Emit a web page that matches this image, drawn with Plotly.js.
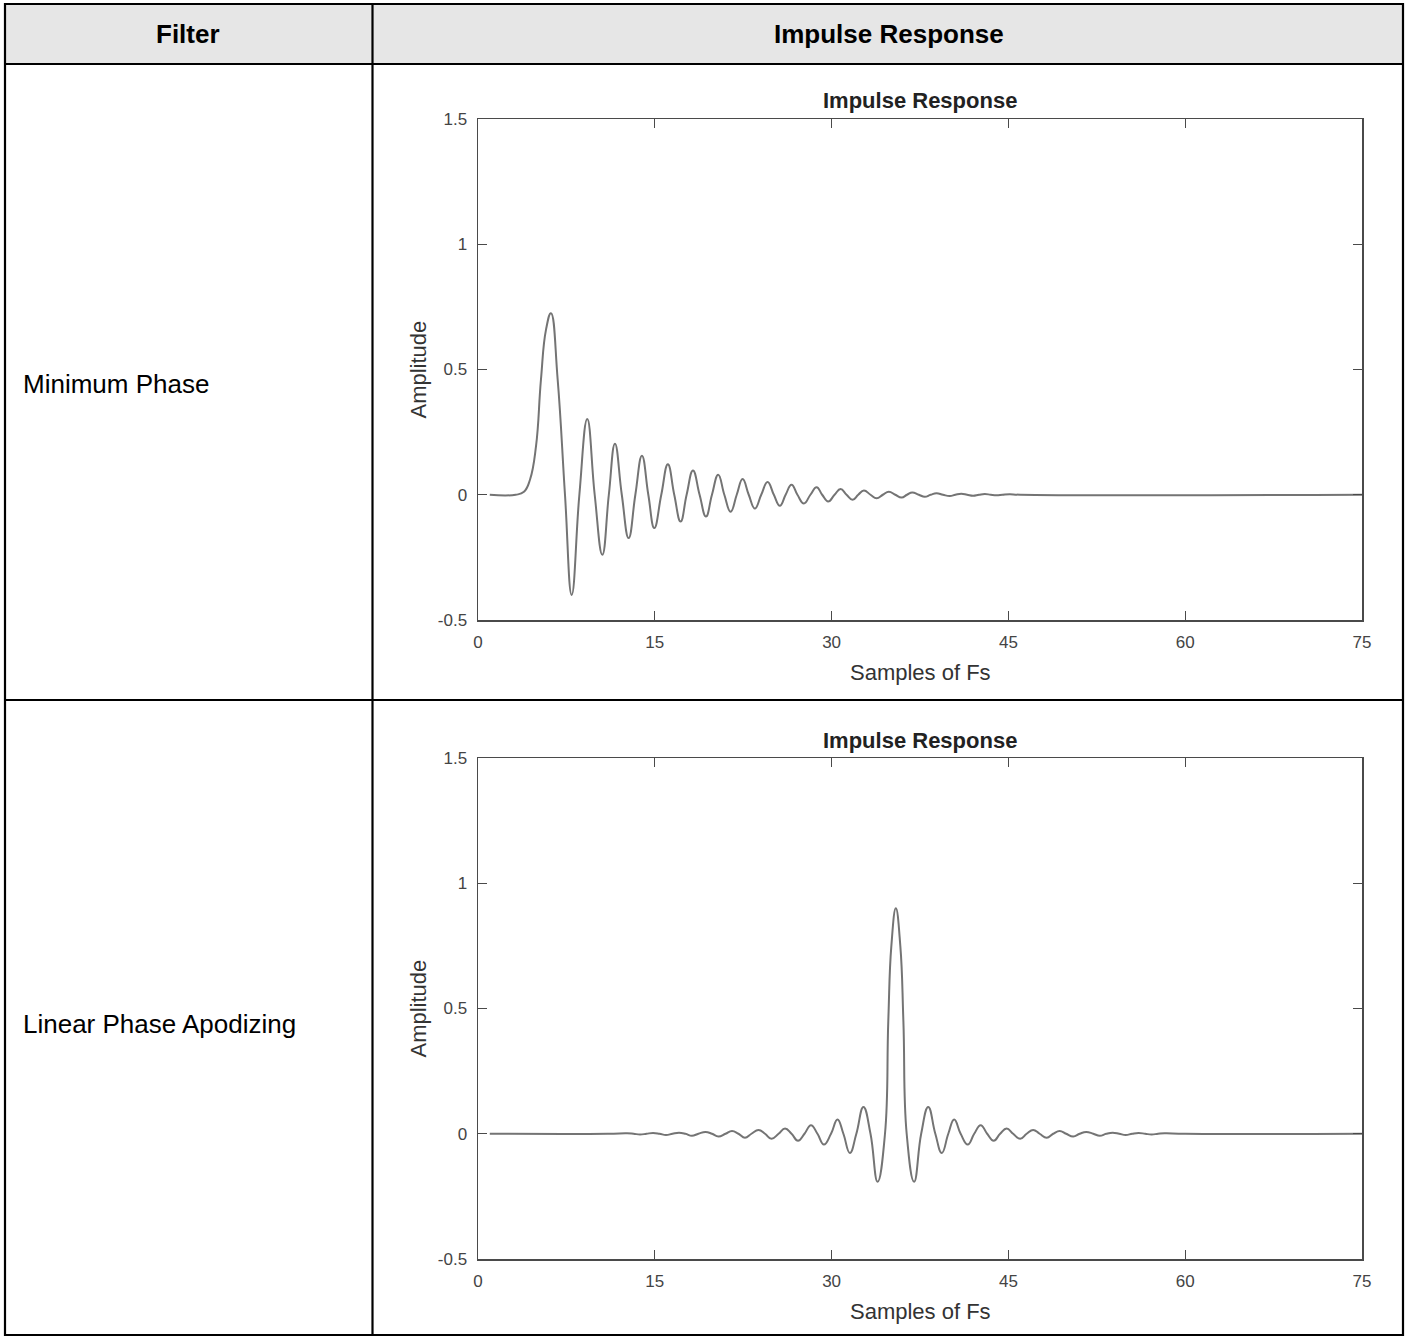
<!DOCTYPE html>
<html><head><meta charset="utf-8">
<script src="https://cdn.plot.ly/plotly-3.0.1.min.js"></script>
<style>html,body{margin:0;padding:0;background:#fff;}#chart{width:1405px;height:1338px;}</style>
</head><body><div id="chart"></div>
<script>
// ---- data ----
const headerLabels = ["Filter", "Impulse Response"];
const rowLabels = ["Minimum Phase", "Linear Phase Apodizing"];
const plotTitle = "Impulse Response";
const xAxisLabel = "Samples of Fs";
const yAxisLabel = "Amplitude";
const xTicks = [0, 15, 30, 45, 60, 75];
const yTicks = [-0.5, 0, 0.5, 1, 1.5];
const yTickText = ["-0.5", "0", "0.5", "1", "1.5"];

const minPhaseX = [1, 3.2, 3.9, 4.41, 4.92, 5.34, 5.77, 6.19, 6.76, 7.38, 7.95, 8.6, 9.27, 9.9, 10.55, 11.1, 11.62, 12.2, 12.78, 13.35, 13.91, 14.45, 14.96, 15.55, 16.11, 16.65, 17.19, 17.7, 18.24, 18.8, 19.34, 19.85, 20.38, 20.9, 21.43, 21.95, 22.45, 22.97, 23.49, 24.03, 24.57, 25.1, 25.61, 26.1, 26.6, 27.1, 27.65, 28.2, 28.73, 29.2, 29.71, 30.25, 30.76, 31.27, 31.78, 32.26, 32.74, 33.3, 33.82, 34.35, 34.86, 35.4, 35.94, 36.4, 36.84, 37.4, 37.91, 38.4, 38.9, 39.45, 40.03, 40.5, 41.0, 41.5, 42.0, 42.5, 43.0, 43.5, 44.0, 44.5, 45.1, 46, 75];
const minPhaseY = [0, 0, 0.012, 0.06, 0.193, 0.459, 0.659, 0.725, 0.459, 0, -0.40, 0, 0.302, 0, -0.24, 0, 0.204, 0, -0.173, 0, 0.156, 0, -0.133, 0, 0.122, 0, -0.107, 0, 0.097, 0, -0.087, 0, 0.080, 0, -0.068, 0, 0.063, 0, -0.055, 0, 0.051, 0, -0.044, 0, 0.040, 0, -0.035, 0, 0.030, 0, -0.027, 0, 0.023, 0, -0.020, 0, 0.017, 0, -0.014, 0, 0.012, 0, -0.011, 0, 0.009, 0, -0.008, 0, 0.006, 0, -0.005, 0, 0.004, 0, -0.004, 0, 0.003, 0, -0.002, 0, 0.002, 0, 0];

const linPhaseX = [1, 11, 12.65, 13.2, 13.75, 14.3, 14.85, 15.4, 15.95, 16.5, 17.05, 17.6, 18.15, 18.7, 19.3, 19.85, 20.4, 21.0, 21.55, 22.1, 22.65, 23.2, 23.8, 24.35, 24.9, 25.5, 26.05, 26.6, 27.15, 27.7, 28.25, 28.8, 29.35, 29.95, 30.5, 31.0, 31.55, 32.1, 32.7, 33.3, 33.9, 34.53, 34.81, 35.07, 35.45, 35.83, 36.09, 36.37, 37.0, 37.6, 38.2, 38.8, 39.35, 39.9, 40.4, 40.95, 41.55, 42.1, 42.65, 43.2, 43.75, 44.3, 44.85, 45.4, 46.0, 46.55, 47.1, 47.65, 48.25, 48.8, 49.35, 49.9, 50.5, 51.05, 51.6, 52.2, 52.75, 53.3, 53.85, 54.4, 54.95, 55.5, 56.05, 56.6, 57.15, 57.7, 58.25, 60, 75];
const linPhaseY = [0, 0, 0.002, 0, -0.003, 0, 0.003, 0, -0.005, 0, 0.004, 0, -0.008, 0, 0.007, 0, -0.011, 0, 0.011, 0, -0.016, 0, 0.015, 0, -0.020, 0, 0.021, 0, -0.028, 0, 0.034, 0, -0.043, 0, 0.057, 0, -0.077, 0, 0.107, 0, -0.192, 0, 0.45, 0.75, 0.90, 0.75, 0.45, 0, -0.192, 0, 0.107, 0, -0.077, 0, 0.057, 0, -0.043, 0, 0.034, 0, -0.028, 0, 0.021, 0, -0.020, 0, 0.015, 0, -0.016, 0, 0.011, 0, -0.011, 0, 0.007, 0, -0.008, 0, 0.004, 0, -0.005, 0, 0.003, 0, -0.003, 0, 0.002, 0, 0];

// ---- geometry helpers (pixel -> paper) ----
const W = 1405, H = 1338;
const px = v => v / W;
const py = v => 1 - v / H;

const tableFont = '"Liberation Sans", Arial, sans-serif';
const plotFont = '"Liberation Sans", Arial, Helvetica, sans-serif';
const axisGray = '#4a4a4a';

function xAxis(anchor, dom) {
  return {
    domain: dom, anchor: anchor, range: [0, 75], tickvals: xTicks, ticktext: xTicks.map(String),
    ticks: 'inside', ticklen: 9, tickwidth: 1.2, tickcolor: axisGray,
    showline: true, linecolor: axisGray, linewidth: 1.5, mirror: 'allticks',
    showgrid: false, zeroline: false, ticklabelstandoff: 6,
    tickfont: {family: plotFont, size: 17, color: '#444'}, fixedrange: true
  };
}
function yAxis(anchor, dom) {
  return {
    domain: dom, anchor: anchor, range: [-0.5, 1.5], tickvals: yTicks, ticktext: yTickText,
    ticks: 'inside', ticklen: 9, tickwidth: 1.2, tickcolor: axisGray,
    showline: true, linecolor: axisGray, linewidth: 1.5, mirror: 'allticks',
    showgrid: false, zeroline: false, ticklabelstandoff: 6,
    tickfont: {family: plotFont, size: 17, color: '#444'}, fixedrange: true
  };
}

const lineStyle = {color: '#747474', width: 2, shape: 'spline', smoothing: 1.3};
const traces = [
  {x: minPhaseX, y: minPhaseY, xaxis: 'x', yaxis: 'y', mode: 'lines', line: lineStyle, hoverinfo: 'skip', showlegend: false},
  {x: linPhaseX, y: linPhaseY, xaxis: 'x2', yaxis: 'y2', mode: 'lines', line: lineStyle, hoverinfo: 'skip', showlegend: false}
];

const L = 5, R = 1403, T = 4, B = 1335, HB = 64, RD = 700, CD = 372.5;
const black = {color: '#000', width: 2.2};
const shapes = [
  {type: 'rect', xref: 'paper', yref: 'paper', x0: px(L), x1: px(R), y0: py(HB), y1: py(T), fillcolor: '#e6e6e6', line: {width: 0}, layer: 'below'},
  {type: 'rect', xref: 'paper', yref: 'paper', x0: px(L), x1: px(R), y0: py(B), y1: py(T), line: black},
  {type: 'line', xref: 'paper', yref: 'paper', x0: px(L), x1: px(R), y0: py(HB), y1: py(HB), line: black},
  {type: 'line', xref: 'paper', yref: 'paper', x0: px(L), x1: px(R), y0: py(RD), y1: py(RD), line: black},
  {type: 'line', xref: 'paper', yref: 'paper', x0: px(CD), x1: px(CD), y0: py(B), y1: py(T), line: black}
];

const plots = [
  {top: 119, bottom: 620},
  {top: 758, bottom: 1259}
];
const axL = 478, axR = 1362, axC = (axL + axR) / 2;

const annotations = [
  {text: headerLabels[0], x: px(188), y: py(34), xref: 'paper', yref: 'paper', xanchor: 'center', yanchor: 'middle', showarrow: false,
   font: {family: tableFont, size: 26, color: '#000', weight: 700}},
  {text: headerLabels[1], x: px(889), y: py(34), xref: 'paper', yref: 'paper', xanchor: 'center', yanchor: 'middle', showarrow: false,
   font: {family: tableFont, size: 26, color: '#000', weight: 700}},
  {text: rowLabels[0], x: px(21), y: py(384), xref: 'paper', yref: 'paper', xanchor: 'left', yanchor: 'middle', showarrow: false,
   font: {family: tableFont, size: 26, color: '#000'}},
  {text: rowLabels[1], x: px(21), y: py(1024), xref: 'paper', yref: 'paper', xanchor: 'left', yanchor: 'middle', showarrow: false,
   font: {family: tableFont, size: 26, color: '#000'}}
];
plots.forEach(p => {
  annotations.push({text: plotTitle, x: px(axC), y: py(p.top - 18), xref: 'paper', yref: 'paper', xanchor: 'center', yanchor: 'middle', showarrow: false,
    font: {family: plotFont, size: 22, color: '#222', weight: 700}});
  annotations.push({text: xAxisLabel, x: px(axC), y: py(p.bottom + 52), xref: 'paper', yref: 'paper', xanchor: 'center', yanchor: 'middle', showarrow: false,
    font: {family: plotFont, size: 22, color: '#333'}});
  annotations.push({text: yAxisLabel, x: px(418), y: py((p.top + p.bottom) / 2), xref: 'paper', yref: 'paper', xanchor: 'center', yanchor: 'middle', showarrow: false, textangle: -90,
    font: {family: plotFont, size: 22, color: '#333'}});
});

const layout = {
  width: W, height: H, margin: {l: 0, r: 0, t: 0, b: 0},
  paper_bgcolor: '#fff', plot_bgcolor: '#fff', showlegend: false,
  xaxis: xAxis('y', [px(axL), px(axR)]),
  yaxis: yAxis('x', [py(plots[0].bottom), py(plots[0].top)]),
  xaxis2: xAxis('y2', [px(axL), px(axR)]),
  yaxis2: yAxis('x2', [py(plots[1].bottom), py(plots[1].top)]),
  shapes: shapes, annotations: annotations
};

Plotly.newPlot('chart', traces, layout, {displayModeBar: false, staticPlot: true});
</script>
</body></html>
